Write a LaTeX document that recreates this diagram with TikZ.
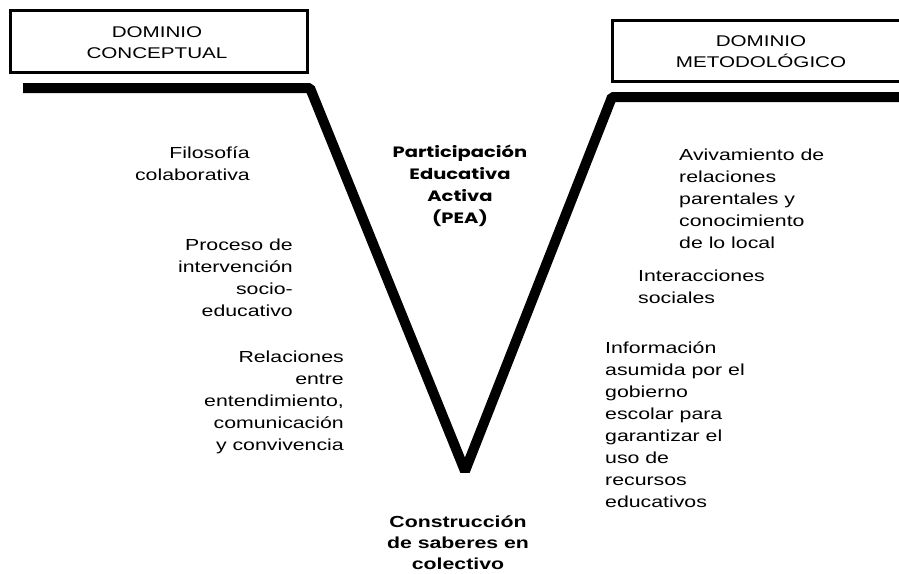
\documentclass[tikz,border=0pt]{standalone}
\usepackage{fontspec}
\setmainfont{Liberation Sans}[FakeStretch=1.33]
\newfontfamily\geofont{Poppins}[FakeStretch=1.3]
\begin{document}
\begin{tikzpicture}[x=1pt,y=-1pt,
  body/.style={inner sep=0pt, font=\fontsize{16}{22}\selectfont, text=black},
  rtext/.style={body, align=right, anchor=base east},
  ltext/.style={body, align=left, anchor=base west},
  dombox/.style={draw=black, line width=3pt, fill=white},
  domtext/.style={inner sep=0pt, align=center, anchor=base, font=\fontsize{15.5}{21}\selectfont, text=black},
  vline/.style={line width=10pt, line join=bevel}]
\useasboundingbox (0,0) rectangle (899,573);
% domain boxes
\draw[dombox] (10,10) rectangle (307,72);
\node[domtext] (dc) at (157,58) {DOMINIO\\CONCEPTUAL};
\draw[dombox] (612,20) rectangle (910,81);
\node[domtext] (dm) at (761,67) {DOMINIO\\METODOL\'OGICO};
% V shape
\coordinate (l0) at (23,88);
\coordinate (l1) at (310,88);
\coordinate (vb) at (465,471);
\coordinate (r1) at (612,97);
\coordinate (r0) at (899,97);
\draw[vline] (l0) -- (l1) -- (vb) -- (r1) -- (r0);
% centre title
\node[inner sep=0pt, align=center, anchor=base, font=\geofont\bfseries\fontsize{15}{22}\selectfont] (pea) at (460,223)
  {Participación\\Educativa\\Activa\\(PEA)};
% left texts
\node[rtext] (fil) at (250,180) {Filosofía\\colaborativa};
\node[rtext] (pro) at (293,316) {Proceso de\\intervención\\socio-\\educativo};
\node[rtext] (rel) at (344,450) {Relaciones\\entre\\entendimiento,\\comunicación\\y convivencia};
% right texts
\node[ltext] (avi) at (679,248) {Avivamiento de\\relaciones\\parentales y\\conocimiento\\de lo local};
\node[ltext] (int) at (638,303) {Interacciones\\sociales};
\node[ltext] (inf) at (605,507) {Información\\asumida por el\\gobierno\\escolar para\\garantizar el\\uso de\\recursos\\educativos};
% bottom
\node[inner sep=0pt, align=center, anchor=base, font=\bfseries\fontsize{16}{21}\selectfont, text=black] (con) at (458,569)
  {Construcción\\de saberes en\\colectivo};
\end{tikzpicture}
\end{document}
